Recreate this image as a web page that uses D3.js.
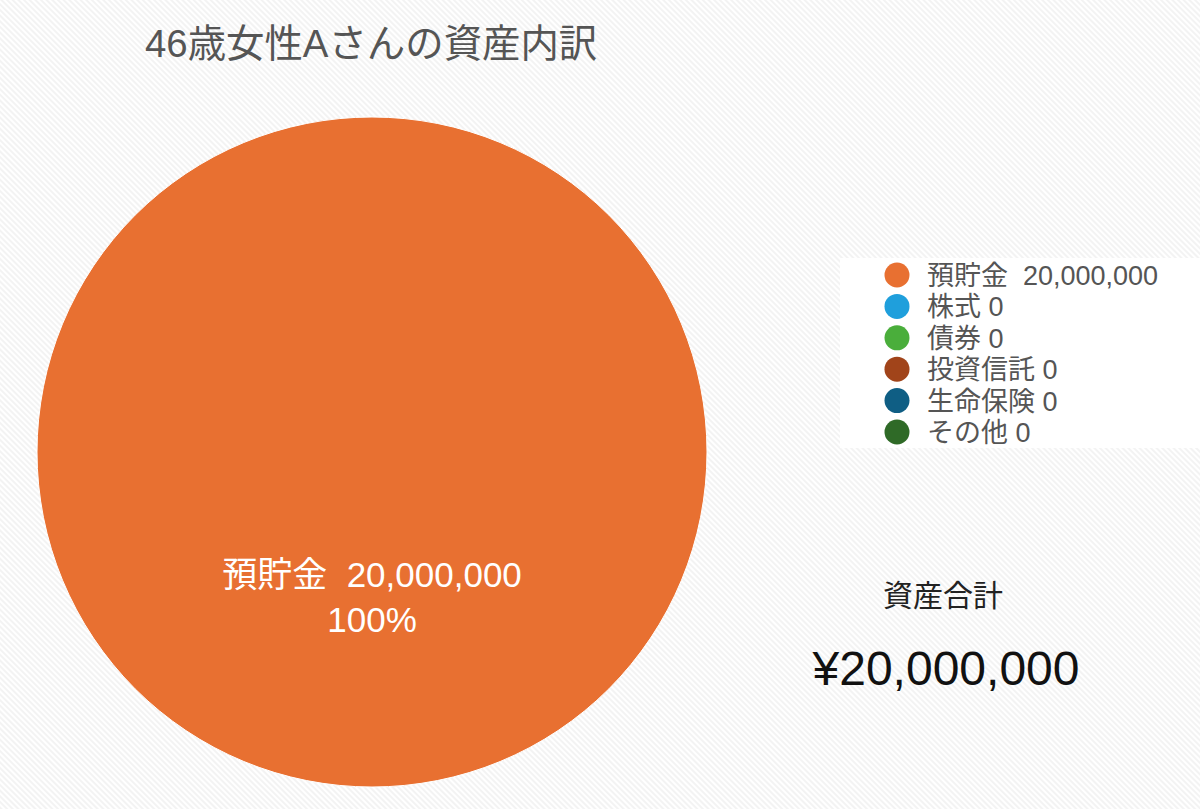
<!DOCTYPE html>
<html>
<head>
<meta charset="utf-8">
<script src="https://cdn.jsdelivr.net/npm/d3@7"></script>
<style>
  html, body { margin: 0; padding: 0; background: #fff; }
  svg { display: block; }
  text { font-family: "Liberation Sans", "Noto Sans CJK JP", sans-serif; }
</style>
</head>
<body>
<svg id="chart" width="1200" height="809"></svg>
<script>
// Asset breakdown data
const categories = ["預貯金", "株式", "債券", "投資信託", "生命保険", "その他"];
const values = [20000000, 0, 0, 0, 0, 0];
const colors = ["#E87031", "#1F9FDC", "#4AAE3B", "#A1441A", "#0F5E84", "#2F6A27"];
const title = "46歳女性Aさんの資産内訳";
const totalLabel = "資産合計";

const W = 1200, H = 809;
const svg = d3.select("#chart");
const fmt = d3.format(",");
const total = d3.sum(values);
const gap = "\u00a0\u00a0";

// Subtle diagonal stripe background
const defs = svg.append("defs");
const pat = defs.append("pattern")
  .attr("id", "stripes")
  .attr("width", 4).attr("height", 4)
  .attr("patternUnits", "userSpaceOnUse")
  .attr("patternTransform", "rotate(-45)");
pat.append("rect").attr("width", 4).attr("height", 4).attr("fill", "#ffffff");
pat.append("rect").attr("width", 2).attr("height", 4).attr("fill", "#f3f3f3");
svg.append("rect").attr("width", W).attr("height", H).attr("fill", "url(#stripes)");

// Title
svg.append("text")
  .attr("x", 145).attr("y", 57)
  .attr("font-size", 38.4)
  .attr("fill", "#555")
  .text(title);

// Pie
const cx = 372, cy = 452, R = 335;
const color = d3.scaleOrdinal().domain(categories).range(colors);
const pie = d3.pie().sort(null).value(d => d.value);
const arcs = pie(categories.map((c, i) => ({ name: c, value: values[i] })));
const arc = d3.arc().innerRadius(0).outerRadius(R);
const labelArc = d3.arc().innerRadius(R * 0.43).outerRadius(R * 0.43);

const g = svg.append("g").attr("transform", `translate(${cx},${cy})`);
g.selectAll("path.slice")
  .data(arcs.filter(d => d.data.value > 0))
  .join("path")
  .attr("class", "slice")
  .attr("d", arc)
  .attr("fill", d => color(d.data.name))
  .attr("stroke", "#fff")
  .attr("stroke-width", 1);

// Slice labels: name + value, then percentage
const lbl = g.selectAll("g.lbl")
  .data(arcs.filter(d => d.data.value > 0))
  .join("g")
  .attr("class", "lbl")
  .attr("transform", d => `translate(${labelArc.centroid(d)})`);
lbl.append("text")
  .attr("text-anchor", "middle")
  .attr("y", -9)
  .attr("font-size", 35)
  .attr("fill", "#fff")
  .text(d => `${d.data.name}${gap}${fmt(d.data.value)}`);
lbl.append("text")
  .attr("text-anchor", "middle")
  .attr("y", 36)
  .attr("font-size", 35)
  .attr("fill", "#fff")
  .text(d => d3.format(".0%")(d.data.value / total));

// Legend
const legend = svg.append("g");
legend.append("rect")
  .attr("x", 840).attr("y", 258).attr("width", 360).attr("height", 190)
  .attr("fill", "#fff");
const ly = d3.scalePoint().domain(categories).range([275, 432]);
const items = legend.selectAll("g.item")
  .data(categories)
  .join("g")
  .attr("class", "item")
  .attr("transform", d => `translate(897,${ly(d)})`);
items.append("circle")
  .attr("r", 12.5)
  .attr("fill", d => color(d));
items.append("text")
  .attr("x", 30)
  .attr("y", 10)
  .attr("font-size", 27)
  .attr("fill", "#555")
  .text((d, i) => values[i] > 0 ? `${d}${gap}${fmt(values[i])}` : `${d} ${fmt(values[i])}`);

// Total
svg.append("text")
  .attr("x", 943).attr("y", 606)
  .attr("text-anchor", "middle")
  .attr("font-size", 30)
  .attr("fill", "#222")
  .text(totalLabel);
svg.append("text")
  .attr("x", 946).attr("y", 685)
  .attr("text-anchor", "middle")
  .attr("font-size", 48)
  .attr("fill", "#111")
  .text("¥" + fmt(total));
</script>
</body>
</html>
